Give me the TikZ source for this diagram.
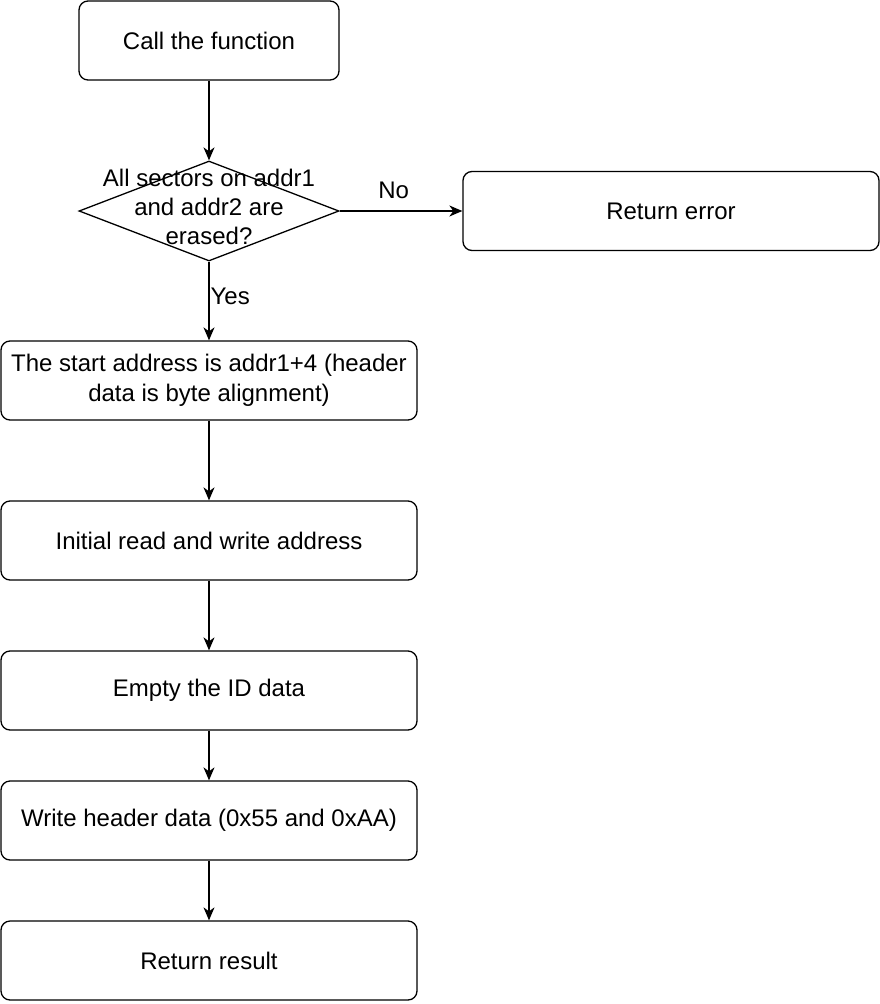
\documentclass[tikz,border=0pt]{standalone}
\usepackage{fontspec}
\setmainfont{Liberation Sans}
\usetikzlibrary{arrows.meta,shapes.geometric}
\begin{document}
\begin{tikzpicture}[x=1pt,y=-1pt,
  box/.style={draw=black,line width=1.3pt,rounded corners=9pt,fill=white,align=center,inner sep=0pt,font=\fontsize{24}{30}\selectfont},
  dec/.style={draw=black,line width=1.3pt,diamond,aspect=2.6,fill=white,inner sep=0pt,minimum width=260pt,minimum height=100pt},
  lbl/.style={font=\fontsize{24}{29}\selectfont,inner sep=0pt},
  arr/.style={line width=1.3pt,-{Stealth[length=13pt,width=11pt,inset=4pt]}}]
\useasboundingbox (0,0) rectangle (880,1004);
\node[box,minimum width=260pt,minimum height=79pt] (call) at (209,40.5) {Call the function};
\node[dec] (d) at (209,211) {};
\node[lbl,align=center] (dt) at (209,207) {All sectors on addr1\\and addr2 are\\erased?};
\node[box,minimum width=416pt,minimum height=79pt] (err) at (671,211) {Return error};
\node[box,minimum width=416pt,minimum height=79pt] (start) at (209,380.5) {The start address is addr1+4 (header\\data is byte alignment)};
\node[box,minimum width=416pt,minimum height=79pt] (init) at (209,540.5) {Initial read and write address};
\node[box,minimum width=416pt,minimum height=79pt] (empty) at (209,690.5) {Empty the ID data};
\node[box,minimum width=416pt,minimum height=79pt] (write) at (209,820.5) {Write header data (0x55 and 0xAA)};
\node[box,minimum width=416pt,minimum height=79pt] (res) at (209,960.5) {Return result};
\draw[arr] (call) -- (d.north);
\draw[arr] (d.east) -- node[lbl,pos=0.44,above=12pt] (no) {No} (err.west);
\draw[arr] (d.south) -- node[lbl,pos=0.44,right=1pt] (yes) {Yes} (start.north);
\draw[arr] (start) -- (init);
\draw[arr] (init) -- (empty);
\draw[arr] (empty) -- (write);
\draw[arr] (write) -- (res);
\end{tikzpicture}
\end{document}
